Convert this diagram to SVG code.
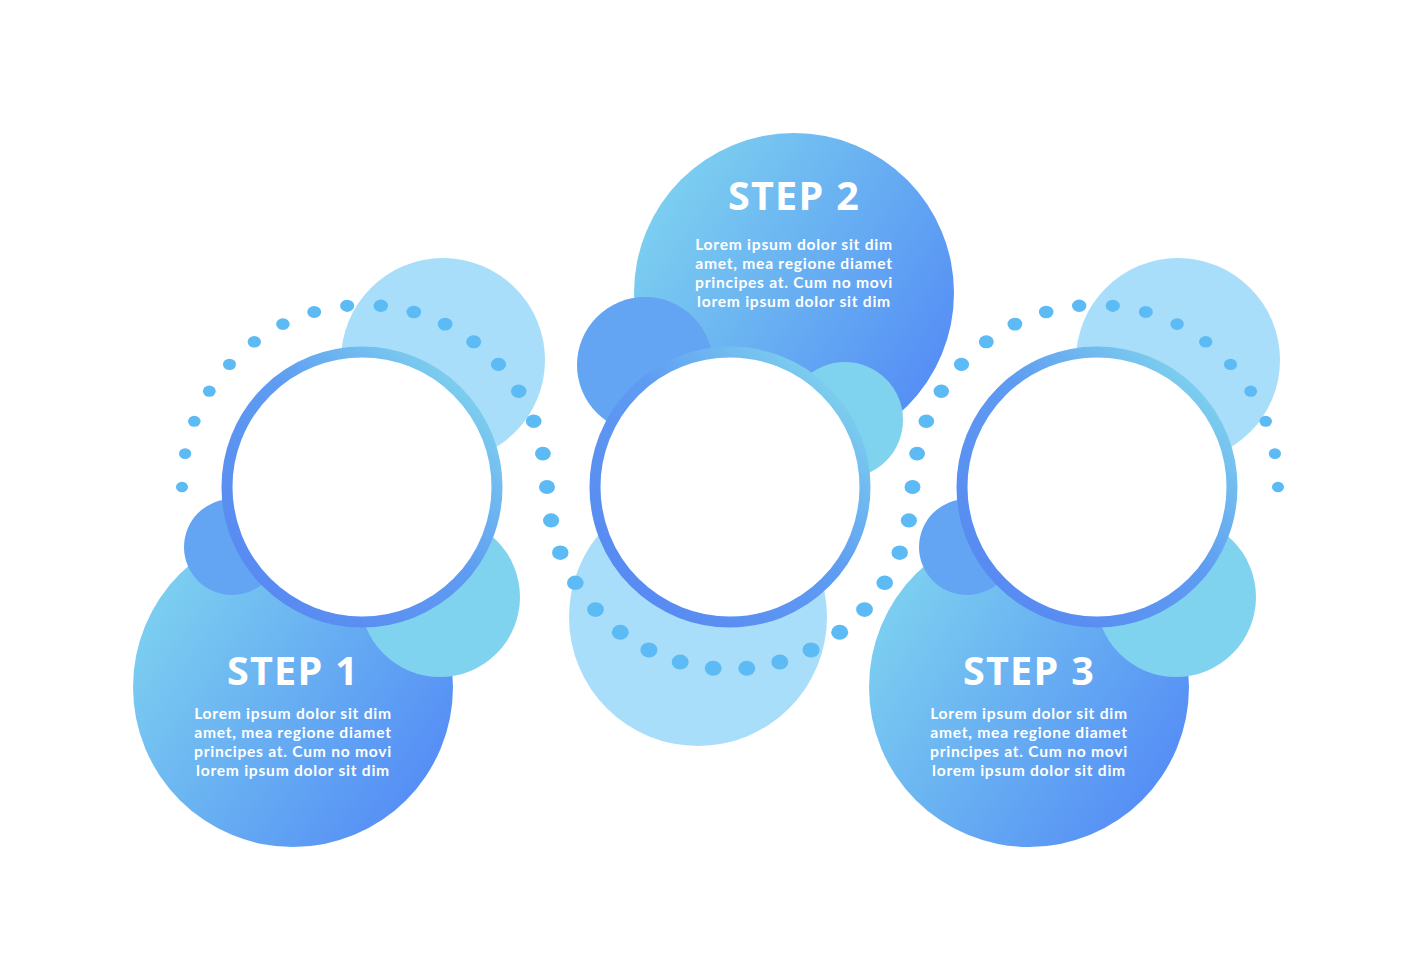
<svg xmlns="http://www.w3.org/2000/svg" width="1419" height="980" viewBox="0 0 1419 980">
<defs>
<linearGradient id="gBig" x1="0" y1="0.2" x2="1" y2="0.85">
<stop offset="0" stop-color="#7fd3f0"/>
<stop offset="0.5" stop-color="#67aef2"/>
<stop offset="1" stop-color="#5288f6"/>
</linearGradient>
<linearGradient id="gRing" x1="0.1" y1="0.9" x2="0.9" y2="0.1">
<stop offset="0" stop-color="#5889f1"/>
<stop offset="0.55" stop-color="#5e9cf2"/>
<stop offset="1" stop-color="#7fd2ee"/>
</linearGradient>
<style>
.light{fill:#a8defa}
.dark{fill:#63a4f3}
.cyan{fill:#7fd3ee}
.big{fill:url(#gBig)}
.ring{fill:#ffffff;stroke:url(#gRing);stroke-width:11}
.dot{fill:#5cbaf5}
.title{font-family:"Open Sans","Liberation Sans",sans-serif;font-weight:700;font-size:39.5px;fill:#ffffff;text-anchor:middle;letter-spacing:1.3px}
.body{font-family:Lato,"Liberation Sans",sans-serif;font-weight:700;font-size:15.6px;fill:#ffffff;text-anchor:middle;letter-spacing:0.75px}
</style>
</defs>
<rect width="1419" height="980" fill="#ffffff"/>

<g id="bg">
<circle class="light" cx="443" cy="360" r="102"/>
<circle class="light" cx="698" cy="617" r="129"/>
<circle class="light" cx="1178" cy="360" r="102"/>
</g>

<g id="connectors">
<ellipse class="dot" cx="182" cy="487" rx="6" ry="5.3"/>
<ellipse class="dot" cx="185.1" cy="453.6" rx="6.1" ry="5.4"/>
<ellipse class="dot" cx="194.3" cy="421.3" rx="6.3" ry="5.5"/>
<ellipse class="dot" cx="209.3" cy="391.2" rx="6.4" ry="5.6"/>
<ellipse class="dot" cx="229.5" cy="364.4" rx="6.5" ry="5.7"/>
<ellipse class="dot" cx="254.3" cy="341.8" rx="6.7" ry="5.8"/>
<ellipse class="dot" cx="282.9" cy="324.1" rx="6.8" ry="5.9"/>
<ellipse class="dot" cx="314.2" cy="312" rx="7" ry="6"/>
<ellipse class="dot" cx="347.2" cy="305.8" rx="7.1" ry="6.1"/>
<ellipse class="dot" cx="380.8" cy="305.8" rx="7.2" ry="6.2"/>
<ellipse class="dot" cx="413.8" cy="312" rx="7.3" ry="6.3"/>
<ellipse class="dot" cx="445.1" cy="324.1" rx="7.4" ry="6.4"/>
<ellipse class="dot" cx="473.7" cy="341.8" rx="7.5" ry="6.5"/>
<ellipse class="dot" cx="498.5" cy="364.4" rx="7.6" ry="6.6"/>
<ellipse class="dot" cx="518.7" cy="391.2" rx="7.7" ry="6.7"/>
<ellipse class="dot" cx="533.7" cy="421.3" rx="7.8" ry="6.8"/>
<ellipse class="dot" cx="542.9" cy="453.6" rx="7.9" ry="6.9"/>
<ellipse class="dot" cx="547" cy="487" rx="8" ry="7"/>
<ellipse class="dot" cx="551.1" cy="520.4" rx="8.1" ry="7.1"/>
<ellipse class="dot" cx="560.3" cy="552.7" rx="8.2" ry="7.2"/>
<ellipse class="dot" cx="575.3" cy="582.8" rx="8.3" ry="7.3"/>
<ellipse class="dot" cx="595.5" cy="609.6" rx="8.4" ry="7.4"/>
<ellipse class="dot" cx="620.3" cy="632.2" rx="8.5" ry="7.5"/>
<ellipse class="dot" cx="648.9" cy="649.9" rx="8.5" ry="7.5"/>
<ellipse class="dot" cx="680.2" cy="662" rx="8.5" ry="7.5"/>
<ellipse class="dot" cx="713.2" cy="668.2" rx="8.5" ry="7.5"/>
<ellipse class="dot" cx="746.8" cy="668.2" rx="8.5" ry="7.5"/>
<ellipse class="dot" cx="779.8" cy="662" rx="8.5" ry="7.5"/>
<ellipse class="dot" cx="811.1" cy="649.9" rx="8.5" ry="7.5"/>
<ellipse class="dot" cx="839.7" cy="632.2" rx="8.5" ry="7.5"/>
<ellipse class="dot" cx="864.5" cy="609.6" rx="8.4" ry="7.4"/>
<ellipse class="dot" cx="884.7" cy="582.8" rx="8.3" ry="7.3"/>
<ellipse class="dot" cx="899.7" cy="552.7" rx="8.2" ry="7.2"/>
<ellipse class="dot" cx="908.9" cy="520.4" rx="8.1" ry="7.1"/>
<ellipse class="dot" cx="912.5" cy="487" rx="8" ry="7"/>
<ellipse class="dot" cx="917.1" cy="453.6" rx="7.9" ry="6.9"/>
<ellipse class="dot" cx="926.3" cy="421.3" rx="7.8" ry="6.8"/>
<ellipse class="dot" cx="941.3" cy="391.2" rx="7.7" ry="6.7"/>
<ellipse class="dot" cx="961.5" cy="364.4" rx="7.6" ry="6.6"/>
<ellipse class="dot" cx="986.3" cy="341.8" rx="7.5" ry="6.5"/>
<ellipse class="dot" cx="1014.9" cy="324.1" rx="7.4" ry="6.4"/>
<ellipse class="dot" cx="1046.2" cy="312" rx="7.3" ry="6.3"/>
<ellipse class="dot" cx="1079.2" cy="305.8" rx="7.2" ry="6.2"/>
<ellipse class="dot" cx="1112.8" cy="305.8" rx="7.1" ry="6.1"/>
<ellipse class="dot" cx="1145.8" cy="312" rx="7" ry="6"/>
<ellipse class="dot" cx="1177.1" cy="324.1" rx="6.8" ry="5.9"/>
<ellipse class="dot" cx="1205.7" cy="341.8" rx="6.7" ry="5.8"/>
<ellipse class="dot" cx="1230.5" cy="364.4" rx="6.5" ry="5.7"/>
<ellipse class="dot" cx="1250.7" cy="391.2" rx="6.4" ry="5.6"/>
<ellipse class="dot" cx="1265.7" cy="421.3" rx="6.3" ry="5.5"/>
<ellipse class="dot" cx="1274.9" cy="453.6" rx="6.1" ry="5.4"/>
<ellipse class="dot" cx="1278" cy="487" rx="6" ry="5.3"/>
</g>

<g id="step1">
<circle class="big" cx="293" cy="687" r="160"/>
<circle class="dark" cx="232" cy="547" r="48"/>
<circle class="cyan" cx="440" cy="597" r="80"/>
<circle class="ring" cx="362" cy="487" r="135"/>
<text class="title" x="293" y="685">STEP 1</text>
<text class="body" x="293" y="719">Lorem ipsum dolor sit dim</text>
<text class="body" x="293" y="738">amet, mea regione diamet</text>
<text class="body" x="293" y="757">principes at. Cum no movi</text>
<text class="body" x="293" y="776">lorem ipsum dolor sit dim</text>
</g>

<g id="step2">
<circle class="big" cx="794" cy="293" r="160"/>
<circle class="dark" cx="645" cy="365" r="68"/>
<circle class="cyan" cx="845" cy="420" r="58"/>
<circle class="ring" cx="730" cy="487" r="135"/>
<text class="title" x="794" y="210">STEP 2</text>
<text class="body" x="794" y="250">Lorem ipsum dolor sit dim</text>
<text class="body" x="794" y="269">amet, mea regione diamet</text>
<text class="body" x="794" y="288">principes at. Cum no movi</text>
<text class="body" x="794" y="307">lorem ipsum dolor sit dim</text>
</g>

<g id="step3">
<circle class="big" cx="1029" cy="687" r="160"/>
<circle class="dark" cx="967" cy="547" r="48"/>
<circle class="cyan" cx="1176" cy="597" r="80"/>
<circle class="ring" cx="1097" cy="487" r="135"/>
<text class="title" x="1029" y="685">STEP 3</text>
<text class="body" x="1029" y="719">Lorem ipsum dolor sit dim</text>
<text class="body" x="1029" y="738">amet, mea regione diamet</text>
<text class="body" x="1029" y="757">principes at. Cum no movi</text>
<text class="body" x="1029" y="776">lorem ipsum dolor sit dim</text>
</g>
</svg>
